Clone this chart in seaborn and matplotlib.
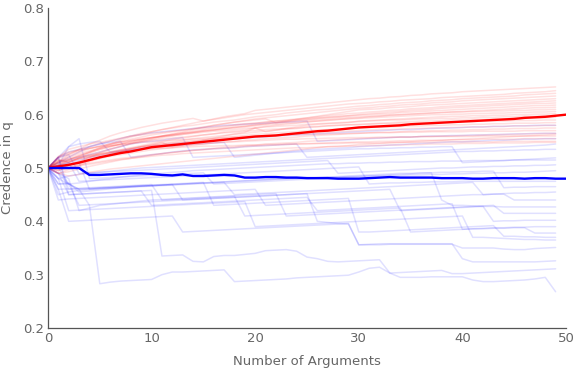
import pandas as pd
import seaborn as sns
import matplotlib.pyplot as plt

# credence values in thousandths, thin runs sampled at arguments 0..49
blue_runs = [
    [500,505,510,515,520,523,527,530,533,536, 540,542,545,547,548,550,551,553,555,556,
     557,558,560,561,562,563,564,565,566,567, 568,569,570,571,572,572,573,574,575,575,
     576,577,577,578,578,579,579,580,580,580],
    [500,510,520,530,540,545,550,555,560,563, 566,568,570,572,574,576,578,580,581,582,
     583,584,585,586,587,588,550,551,552,553, 554,555,556,557,558,558,559,560,560,561,
     561,562,562,563,563,564,564,565,565,565],
    [500,505,540,545,548,550,530,532,535,537, 540,541,542,543,545,546,547,548,520,522,
     524,526,528,530,532,534,535,536,537,538, 540,541,542,543,544,545,546,547,548,549,
     549,550,551,552,552,553,554,554,555,555],
    [500,520,530,535,540,545,548,550,520,522, 525,527,530,532,534,535,536,537,538,540,
     541,542,543,544,545,520,521,522,523,524, 525,526,527,528,529,530,531,532,533,534,
     535,536,537,538,539,540,541,542,543,545],
    [500,480,485,488,490,492,494,496,498,500, 501,502,503,504,505,506,507,508,509,510,
     511,512,513,514,515,516,517,518,519,520, 521,522,523,524,525,526,527,528,529,530,
     531,531,532,532,533,533,534,534,535,535],
    [500,510,515,520,525,530,535,540,545,548, 550,552,555,557,520,521,522,523,524,525,
     526,527,528,529,530,531,532,533,534,535, 536,536,537,537,538,538,539,539,540,540,
     510,511,512,513,514,515,516,517,518,519],
    [500,500,470,472,475,478,480,483,485,487, 489,490,492,493,495,496,497,498,499,500,
     501,502,503,504,505,506,507,508,508,509, 509,510,510,511,511,512,512,512,513,513,
     513,514,514,514,514,515,515,515,515,515],
    [500,520,525,490,491,492,493,494,495,496, 497,498,499,500,501,502,503,504,505,506,
     507,508,509,510,511,512,513,514,490,491, 492,493,494,495,496,497,498,499,500,500,
     501,502,502,503,503,504,504,505,505,506],
    [500,450,455,458,460,462,463,464,465,466, 467,468,469,470,471,472,473,474,475,476,
     477,478,479,480,481,482,482,483,483,484, 484,485,485,486,486,487,487,488,488,489,
     489,490,490,491,491,492,492,493,494,495],
    [500,505,510,475,476,477,478,479,480,481, 482,483,484,485,486,487,488,489,490,491,
     492,493,494,495,496,497,498,499,500,501, 502,470,471,472,472,473,473,474,474,474,
     475,475,475,475,475,475,475,475,475,475],
    [500,470,472,455,457,459,461,463,465,466, 467,468,469,470,471,472,473,474,475,476,
     477,478,479,480,480,481,482,483,484,485, 486,487,488,489,490,490,491,491,492,492,
     493,493,494,494,463,464,464,465,465,465],
    [500,500,505,510,460,461,462,463,464,465, 466,467,468,469,470,471,472,473,450,451,
     452,453,454,455,456,457,458,459,460,461, 462,463,464,465,466,467,468,469,470,471,
     472,473,450,451,452,453,453,454,454,455],
    [500,440,442,443,444,445,446,447,448,449, 450,451,452,453,454,455,456,457,458,459,
     460,430,431,432,433,434,435,436,437,438, 439,440,441,442,443,444,445,446,447,448,
     449,450,450,451,451,440,440,440,440,440],
    [500,520,540,555,480,481,482,483,484,485, 486,487,488,489,490,491,470,471,472,473,
     474,475,476,477,478,479,480,481,482,483, 484,485,486,487,488,489,490,491,440,430,
     430,429,428,428,427,427,427,427,427,427],
    [500,490,480,420,425,430,432,434,436,438, 440,441,442,443,444,445,446,447,448,449,
     450,451,452,410,411,412,413,414,415,416, 417,418,419,420,421,422,423,424,425,426,
     427,428,429,430,415,415,415,415,415,415],
    [500,480,470,460,461,462,463,464,465,466, 467,468,469,440,441,442,443,444,445,446,
     447,448,449,450,451,452,453,454,455,456, 457,458,459,460,420,421,422,423,424,425,
     426,427,428,400,401,401,402,402,402,402],
    [500,520,450,451,452,453,454,455,456,457, 430,431,432,433,434,435,436,437,438,439,
     440,441,442,443,444,445,420,421,422,423, 424,425,426,427,428,429,430,431,432,433,
     385,386,387,388,388,389,389,390,390,390],
    [500,460,461,462,463,464,465,466,467,468, 469,440,441,442,443,444,445,446,447,410,
     411,412,413,414,415,416,417,418,419,420, 421,422,423,424,425,380,381,382,383,384,
     385,386,386,387,387,388,388,378,378,378],
    [500,480,420,421,422,423,424,425,426,427, 428,429,430,431,432,433,434,435,436,437,
     390,391,392,393,394,395,396,397,398,399, 400,401,402,403,404,405,406,407,408,409,
     410,370,370,369,368,367,366,366,365,365],
    [500,470,470,430,431,432,433,434,435,436, 437,438,439,440,441,442,443,444,445,446,
     447,448,449,450,451,452,400,398,396,395, 356,356,356,357,357,357,357,357,357,357,
     350,350,350,350,348,347,347,349,350,351],
    [500,490,450,451,452,453,454,455,456,457, 458,335,336,337,325,324,334,336,336,338,
     340,345,346,347,344,333,330,325,324,325, 326,327,328,303,295,295,295,296,296,296,
     296,290,287,287,288,289,290,292,295,268],
    [500,460,400,401,402,403,404,405,406,407, 408,409,410,380,381,382,383,384,385,386,
     387,388,389,390,391,392,393,394,395,396, 356,357,358,358,358,358,358,358,358,358,
     330,324,324,324,324,324,324,324,325,326],
    [500,520,460,461,462,463,464,465,466,467, 468,469,470,471,472,473,430,431,432,433,
     434,435,436,437,438,439,440,441,442,443, 380,380,381,382,383,384,385,386,387,388,
     389,390,391,392,372,372,371,371,370,370],
    [500,490,470,460,430,283,286,288,289,290, 291,300,305,305,306,307,308,309,287,288,
     289,290,291,292,294,295,296,297,298,299, 305,312,314,303,304,305,306,307,308,302,
     302,303,304,305,306,307,308,309,310,311],
]

red_runs = [
    [500,512,525,535,545,552,560,566,571,576, 580,584,587,590,593,588,592,596,599,602,
     608,610,612,614,616,618,620,622,624,626, 628,630,631,633,634,636,637,639,640,641,
     643,644,645,646,647,648,649,650,651,652],
    [500,505,515,522,530,538,545,552,558,563, 568,572,576,580,584,588,591,594,597,600,
     602,604,606,608,610,612,614,616,618,620, 621,622,624,625,627,628,629,630,632,633,
     634,635,636,637,638,640,641,642,643,645],
    [500,520,528,534,540,546,550,555,560,565, 568,572,575,578,580,583,586,588,590,593,
     596,598,600,603,605,607,609,610,612,614, 616,617,619,620,622,623,624,626,627,628,
     630,631,632,633,634,635,637,638,639,640],
    [500,495,505,512,520,528,535,540,546,551, 555,560,564,568,572,576,580,583,586,589,
     592,594,596,598,600,602,604,606,608,610, 612,613,615,616,618,619,620,622,623,624,
     626,627,628,629,630,631,632,633,634,635],
    [500,510,517,524,530,537,543,549,554,558, 562,565,568,571,574,577,580,583,586,588,
     590,592,585,588,591,594,597,600,603,606, 609,610,611,613,614,615,617,618,619,620,
     621,622,623,624,625,626,627,628,629,630],
    [500,515,510,520,528,535,540,545,550,553, 557,560,563,566,569,572,575,577,580,582,
     584,586,588,590,592,594,596,598,600,602, 603,605,606,608,609,611,612,613,615,616,
     617,618,619,620,621,622,623,624,625,626],
    [500,503,510,518,525,530,536,541,545,549, 553,557,560,563,566,569,571,574,576,578,
     581,583,585,587,589,591,593,595,597,598, 600,602,603,605,606,608,609,610,612,613,
     614,615,616,617,618,619,620,621,621,622],
    [500,520,535,540,545,548,552,556,560,562, 565,567,569,571,573,575,577,579,581,583,
     584,586,588,589,591,592,594,595,596,598, 599,600,601,602,604,605,606,607,608,609,
     610,611,612,613,614,615,616,617,617,618],
    [500,490,497,504,512,518,524,530,535,540, 544,548,540,544,548,552,556,560,564,567,
     575,578,580,582,584,586,588,590,591,593, 594,596,597,599,600,601,602,603,604,605,
     606,607,608,609,610,611,612,613,613,614],
    [500,508,515,523,529,535,540,545,549,553, 556,559,562,565,567,570,572,574,577,579,
     581,583,585,586,588,589,591,592,594,595, 596,597,598,599,600,601,602,603,604,605,
     605,606,606,607,607,608,608,609,609,610],
    [500,512,522,530,536,541,545,549,552,555, 557,560,562,565,567,569,571,573,575,577,
     579,581,582,584,585,587,588,589,591,592, 593,594,595,596,597,598,599,600,600,601,
     601,602,602,603,603,604,604,605,605,606],
    [500,500,507,513,519,524,529,534,538,542, 546,549,553,556,559,562,564,567,569,571,
     575,568,571,574,577,580,582,583,584,585, 588,589,590,591,592,593,594,595,596,597,
     597,598,598,599,599,600,600,601,601,602],
    [500,518,526,532,537,541,545,548,551,554, 557,559,561,563,565,567,569,570,572,574,
     575,577,578,579,580,582,583,584,585,586, 587,588,589,590,590,591,592,592,593,593,
     594,594,595,595,596,596,597,597,598,598],
    [500,495,500,507,514,520,526,531,536,540, 543,546,549,552,555,557,559,561,563,565,
     567,569,571,573,574,576,577,579,580,581, 582,583,584,585,586,587,588,588,589,590,
     590,591,591,592,592,593,593,594,594,595],
    [500,510,520,527,532,537,541,544,547,550, 552,554,556,558,560,562,564,566,567,569,
     570,572,573,574,575,577,578,579,580,581, 581,582,583,583,584,584,585,585,586,586,
     587,587,588,588,588,589,589,589,590,590],
    [500,505,512,517,521,525,529,533,536,539, 542,544,547,549,551,553,555,557,559,561,
     563,564,566,567,568,570,571,572,573,574, 575,576,577,577,578,579,579,580,580,581,
     581,582,582,583,583,584,584,584,585,585],
    [500,515,512,518,523,527,531,534,537,540, 542,544,546,548,550,552,553,555,556,558,
     559,561,562,563,564,565,566,567,568,569, 570,571,572,572,573,574,574,575,575,576,
     576,577,577,578,578,579,579,579,580,580],
    [500,502,506,510,514,518,522,525,528,531, 534,536,538,541,543,545,547,549,550,552,
     553,555,556,557,558,560,561,562,563,564, 565,566,567,567,568,569,569,570,570,571,
     571,572,572,573,573,574,574,574,575,575],
    [500,522,530,534,537,540,542,544,546,548, 549,551,552,553,554,555,556,557,558,559,
     560,560,561,562,562,563,563,564,564,565, 565,566,566,566,567,567,567,568,568,568,
     568,569,569,569,569,569,570,570,570,570],
    [500,490,493,498,503,507,511,515,518,521, 524,527,529,531,533,535,537,539,540,542,
     543,545,546,547,548,550,551,552,553,554, 555,556,556,557,558,558,559,559,560,560,
     561,561,562,562,563,563,564,564,565,565],
    [500,508,513,518,522,525,528,531,533,535, 537,539,541,542,544,545,547,548,549,550,
     551,552,553,554,554,555,555,556,556,557, 557,557,558,558,558,558,559,559,559,559,
     559,559,560,560,560,560,560,560,560,560],
    [500,500,503,506,509,512,515,518,520,523, 525,527,529,531,533,534,536,537,538,540,
     541,542,543,544,545,546,546,547,548,548, 549,549,550,550,551,551,552,552,552,553,
     553,553,554,554,554,554,555,555,555,555],
    [500,512,517,521,524,527,529,531,533,535, 536,537,538,539,540,541,541,542,542,543,
     543,544,544,545,545,545,546,546,546,547, 547,547,547,548,548,548,548,548,549,549,
     549,549,549,549,550,550,550,550,550,550],
    [500,497,500,504,507,510,513,516,518,520, 522,524,525,527,528,529,530,531,532,533,
     534,535,536,537,538,538,539,540,540,541, 541,542,542,543,543,544,544,545,545,545,
     546,546,546,547,547,547,547,548,548,548],
    [500,490,485,488,492,495,498,500,502,504, 506,508,510,512,514,516,518,520,522,524,
     526,528,530,532,534,536,538,540,541,542, 544,545,546,547,548,549,550,551,552,553,
     554,555,556,557,558,559,560,561,562,563],
]

# averaged runs, arguments 0..50
red_mean = [500,503,506,510,515,520,524,528,531,535, 539,541,543,545,547,549,551,553,555,557,
            559,560,561,563,565,567,569,570,572,574, 576,577,578,579,580,582,583,584,585,586,
            587,588,589,590,591,592,594,595,596,598, 600]
blue_mean = [500,500,500,500,487,487,488,489,490,490, 489,487,486,488,485,485,486,487,486,482,
             482,483,483,482,482,481,481,481,480,480, 480,481,482,483,482,482,482,482,481,481,
             481,480,480,481,481,481,480,481,481,480, 480]

rows = []
for group, runs in (("blue", blue_runs), ("red", red_runs)):
    for i, run in enumerate(runs):
        for x, v in enumerate(run):
            rows.append({"arg": x, "credence": v / 1000, "run": f"{group}{i}", "group": group})
thin = pd.DataFrame(rows)

means = pd.DataFrame(
    [{"arg": x, "credence": v / 1000, "group": "red"} for x, v in enumerate(red_mean)]
    + [{"arg": x, "credence": v / 1000, "group": "blue"} for x, v in enumerate(blue_mean)]
)

sns.set_style("white")
plt.rcParams["font.family"] = ["DejaVu Sans"]
gray = "#666666"

fig = plt.figure(figsize=(5.76, 3.73), dpi=100)
ax = fig.add_axes([0.0833, 0.1206, 0.8993, 0.858])

palette = {"red": "#ff0000", "blue": "#0000ff"}
sns.lineplot(data=thin, x="arg", y="credence", units="run", estimator=None, hue="group",
             palette=palette, alpha=0.12, lw=1.1, legend=False, ax=ax)
sns.lineplot(data=means, x="arg", y="credence", hue="group", estimator=None,
             palette=palette, lw=1.7, legend=False, ax=ax)

ax.set_xlim(0, 50)
ax.set_ylim(0.2, 0.8)
ax.set_xticks([0, 10, 20, 30, 40, 50])
ax.set_xticks(range(0, 51, 2), minor=True)
ax.set_yticks([0.2, 0.3, 0.4, 0.5, 0.6, 0.7, 0.8])
ax.set_yticks([0.2 + 0.02 * i for i in range(31)], minor=True)
ax.set_yticklabels(["0.2", "0.3", "0.4", "0.5", "0.6", "0.7", "0.8"])

for side in ("top", "right"):
    ax.spines[side].set_visible(False)
for side in ("left", "bottom"):
    ax.spines[side].set_color("#555555")
    ax.spines[side].set_linewidth(0.9)

ax.tick_params(which="major", direction="in", length=4, width=0.8, color="#555555",
               labelcolor=gray, labelsize=9.5, pad=3)
ax.tick_params(which="minor", direction="in", length=2, width=0.6, color="#555555")

ax.set_xlabel("Number of Arguments", color=gray, fontsize=9.5, labelpad=7)
ax.set_ylabel("Credence in q", color=gray, fontsize=9.5, labelpad=6)

fig.savefig("out.png", dpi=100)
